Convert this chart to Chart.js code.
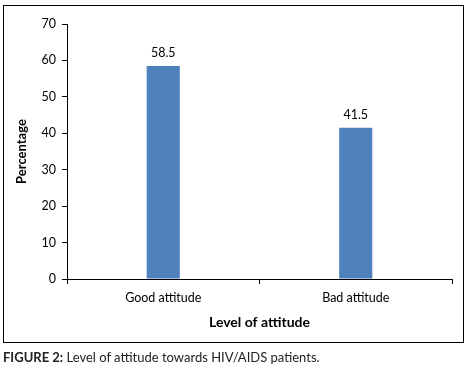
<!DOCTYPE html>
<html>
<head>
<meta charset="utf-8">
<script src="https://cdn.jsdelivr.net/npm/chart.js@4.4.1/dist/chart.umd.min.js"></script>
<style>
  body { margin: 0; background: #fff; }
  #wrap { position: relative; width: 471px; height: 377px; }
  #caption {
    position: absolute; left: 3px; top: 349px;
    font-family: Lato, 'Open Sans', sans-serif; font-size: 13px; color: #222;
    white-space: nowrap;
  }
  #caption b { font-weight: bold; }
</style>
</head>
<body>
<div id="wrap">
  <canvas id="chart" width="471" height="377"></canvas>
  <div id="caption"><b>FIGURE 2:</b> Level of attitude towards HIV/AIDS patients.</div>
</div>
<script>
const categories = ['Good attitude', 'Bad attitude'];
const percentages = [58.5, 41.5];
const yTicks = [0, 10, 20, 30, 40, 50, 60, 70];

const FONT = 'Lato, "Open Sans", sans-serif';

// outer frame around the plot
const frame = {
  id: 'frame',
  afterDraw(chart) {
    const ctx = chart.ctx;
    ctx.save();
    ctx.strokeStyle = '#000';
    ctx.lineWidth = 1;
    ctx.strokeRect(3.5, 5.5, 460, 337);
    ctx.restore();
  }
};

// value labels above the bars
const valueLabels = {
  id: 'valueLabels',
  afterDatasetsDraw(chart) {
    const ctx = chart.ctx;
    const meta = chart.getDatasetMeta(0);
    ctx.save();
    ctx.font = '12.5px ' + FONT;
    ctx.fillStyle = '#000';
    ctx.textAlign = 'center';
    ctx.textBaseline = 'middle';
    meta.data.forEach((bar, i) => {
      ctx.fillText(String(percentages[i]), bar.x, bar.y - 13);
    });
    ctx.restore();
  }
};

new Chart(document.getElementById('chart'), {
  type: 'bar',
  data: {
    labels: categories,
    datasets: [{
      data: percentages,
      backgroundColor: '#4F81BD',
      borderWidth: 0,
      categoryPercentage: 1,
      barPercentage: 0.172
    }]
  },
  options: {
    responsive: false,
    animation: false,
    layout: { padding: { left: 0, top: 24, right: 19, bottom: 0 } },
    plugins: { legend: { display: false }, tooltip: { enabled: false } },
    scales: {
      x: {
        grid: { display: true, drawOnChartArea: false, offset: true, color: '#000', tickLength: 5 },
        border: { color: '#000', width: 1 },
        ticks: { color: '#000', font: { family: FONT, size: 12.5 }, padding: 6, maxRotation: 0 },
        title: {
          display: true, text: 'Level of attitude', color: '#000',
          font: { family: FONT, size: 14, weight: 'bold' },
          padding: { top: 0, bottom: 46 }
        },
        afterFit(scale) { scale.height = 98; }
      },
      y: {
        min: 0, max: 70,
        afterBuildTicks(scale) { scale.ticks = yTicks.map(v => ({ value: v })); },
        grid: { display: true, drawOnChartArea: false, color: '#000', tickLength: 5 },
        border: { color: '#000', width: 1 },
        ticks: { color: '#000', font: { family: FONT, size: 12.5 }, padding: 6 },
        title: {
          display: true, text: 'Percentage', color: '#000',
          font: { family: FONT, size: 13, weight: 'bold' },
          padding: { top: 14, bottom: 0 }
        },
        afterFit(scale) { scale.width = 67; }
      }
    }
  },
  plugins: [frame, valueLabels]
});
</script>
</body>
</html>
